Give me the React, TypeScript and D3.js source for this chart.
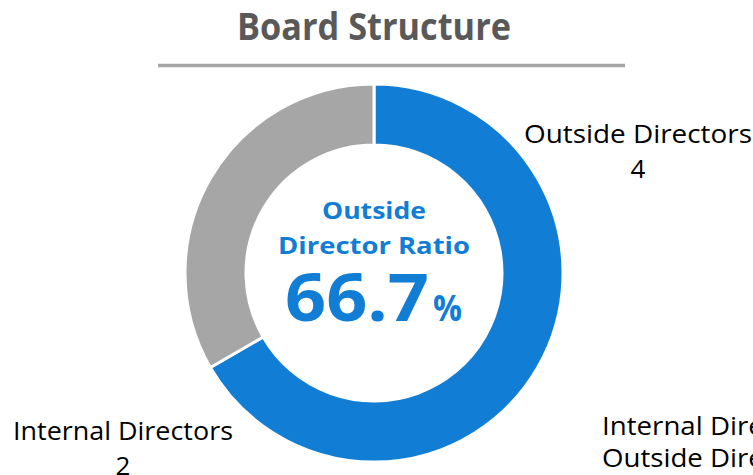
import { useEffect, useRef } from "react"
import * as d3 from "d3"

const categories = ["Outside Directors", "Internal Directors"]
const counts = [4, 2]
const colours = ["#117dd4", "#a6a6a6"]
const legendItems = ["Internal Directors", "Outside Directors"]

const title = "Board Structure"
const centreLines = ["Outside", "Director Ratio"]

const W = 753
const H = 475
const FONT = "'Open Sans', 'Noto Sans', sans-serif"

const App = () => {
  const ref = useRef<SVGSVGElement>(null)

  useEffect(() => {
    const svg = d3.select(ref.current)
    svg.selectAll("*").remove()

    const cx = 374
    const cy = 273
    const outer = 189
    const inner = 128

    // title + rule
    svg
      .append("text")
      .attr("x", 374)
      .attr("y", 40)
      .attr("text-anchor", "middle")
      .attr("font-family", FONT)
      .attr("font-weight", 700)
      .attr("font-size", 37)
      .attr("fill", "#595959")
      .attr("textLength", 274)
      .attr("lengthAdjust", "spacingAndGlyphs")
      .text(title)

    svg
      .append("line")
      .attr("x1", 158)
      .attr("x2", 625)
      .attr("y1", 65.5)
      .attr("y2", 65.5)
      .attr("stroke", "#a6a6a6")
      .attr("stroke-width", 3.5)

    const data = categories.map((c, i) => ({ label: c, value: counts[i] }))
    const pie = d3
      .pie<{ label: string; value: number }>()
      .sort(null)
      .value((d) => d.value)
    const arc = d3
      .arc<d3.PieArcDatum<{ label: string; value: number }>>()
      .innerRadius(inner)
      .outerRadius(outer)

    const chart = svg.append("g").attr("transform", `translate(${cx},${cy})`)

    chart
      .selectAll("path")
      .data(pie(data))
      .join("path")
      .attr("d", arc)
      .attr("fill", (_d, i) => colours[i])
      .attr("stroke", "#fff")
      .attr("stroke-width", 3)

    // centre text
    const total = d3.sum(counts)
    const ratio = ((counts[0] / total) * 100).toFixed(1)

    chart
      .append("text")
      .attr("y", -54)
      .attr("text-anchor", "middle")
      .attr("font-family", FONT)
      .attr("font-weight", 700)
      .attr("font-size", 23)
      .attr("fill", colours[0])
      .attr("textLength", 104)
      .attr("lengthAdjust", "spacingAndGlyphs")
      .text(centreLines[0])

    chart
      .append("text")
      .attr("y", -19)
      .attr("text-anchor", "middle")
      .attr("font-family", FONT)
      .attr("font-weight", 700)
      .attr("font-size", 23)
      .attr("fill", colours[0])
      .attr("textLength", 192)
      .attr("lengthAdjust", "spacingAndGlyphs")
      .text(centreLines[1])

    chart
      .append("text")
      .attr("x", 285 - cx)
      .attr("y", 48)
      .attr("font-family", FONT)
      .attr("font-weight", 700)
      .attr("font-size", 67)
      .attr("fill", colours[0])
      .attr("textLength", 144)
      .attr("lengthAdjust", "spacingAndGlyphs")
      .text(ratio)

    chart
      .append("text")
      .attr("x", 433 - cx)
      .attr("y", 48)
      .attr("font-family", FONT)
      .attr("font-weight", 700)
      .attr("font-size", 36)
      .attr("fill", colours[0])
      .attr("textLength", 29)
      .attr("lengthAdjust", "spacingAndGlyphs")
      .text("%")

    // data labels
    const labelPos = [
      { x: 638, y: 143, w: 228 },
      { x: 123, y: 440, w: 220 },
    ]
    data.forEach((d, i) => {
      const t = svg
        .append("text")
        .attr("text-anchor", "middle")
        .attr("font-family", FONT)
        .attr("font-size", 26)
        .attr("fill", "#000")
      t.append("tspan")
        .attr("x", labelPos[i].x)
        .attr("y", labelPos[i].y)
        .attr("textLength", labelPos[i].w)
        .attr("lengthAdjust", "spacingAndGlyphs")
        .text(d.label)
      t.append("tspan")
        .attr("x", labelPos[i].x)
        .attr("y", labelPos[i].y + 35)
        .text(d.value)
    })

    // legend (runs off the right edge)
    svg
      .selectAll("text.legend")
      .data(legendItems)
      .join("text")
      .attr("class", "legend")
      .attr("x", 602)
      .attr("y", (_d, i) => 435 + i * 32)
      .attr("font-family", FONT)
      .attr("font-size", 26)
      .attr("fill", "#000")
      .attr("textLength", 226)
      .attr("lengthAdjust", "spacingAndGlyphs")
      .text((d) => d)
  }, [])

  return (
    <svg
      ref={ref}
      width={W}
      height={H}
      viewBox={`0 0 ${W} ${H}`}
      style={{ position: "absolute", left: 0, top: 0, background: "#fff" }}
    />
  )
}

export default App
